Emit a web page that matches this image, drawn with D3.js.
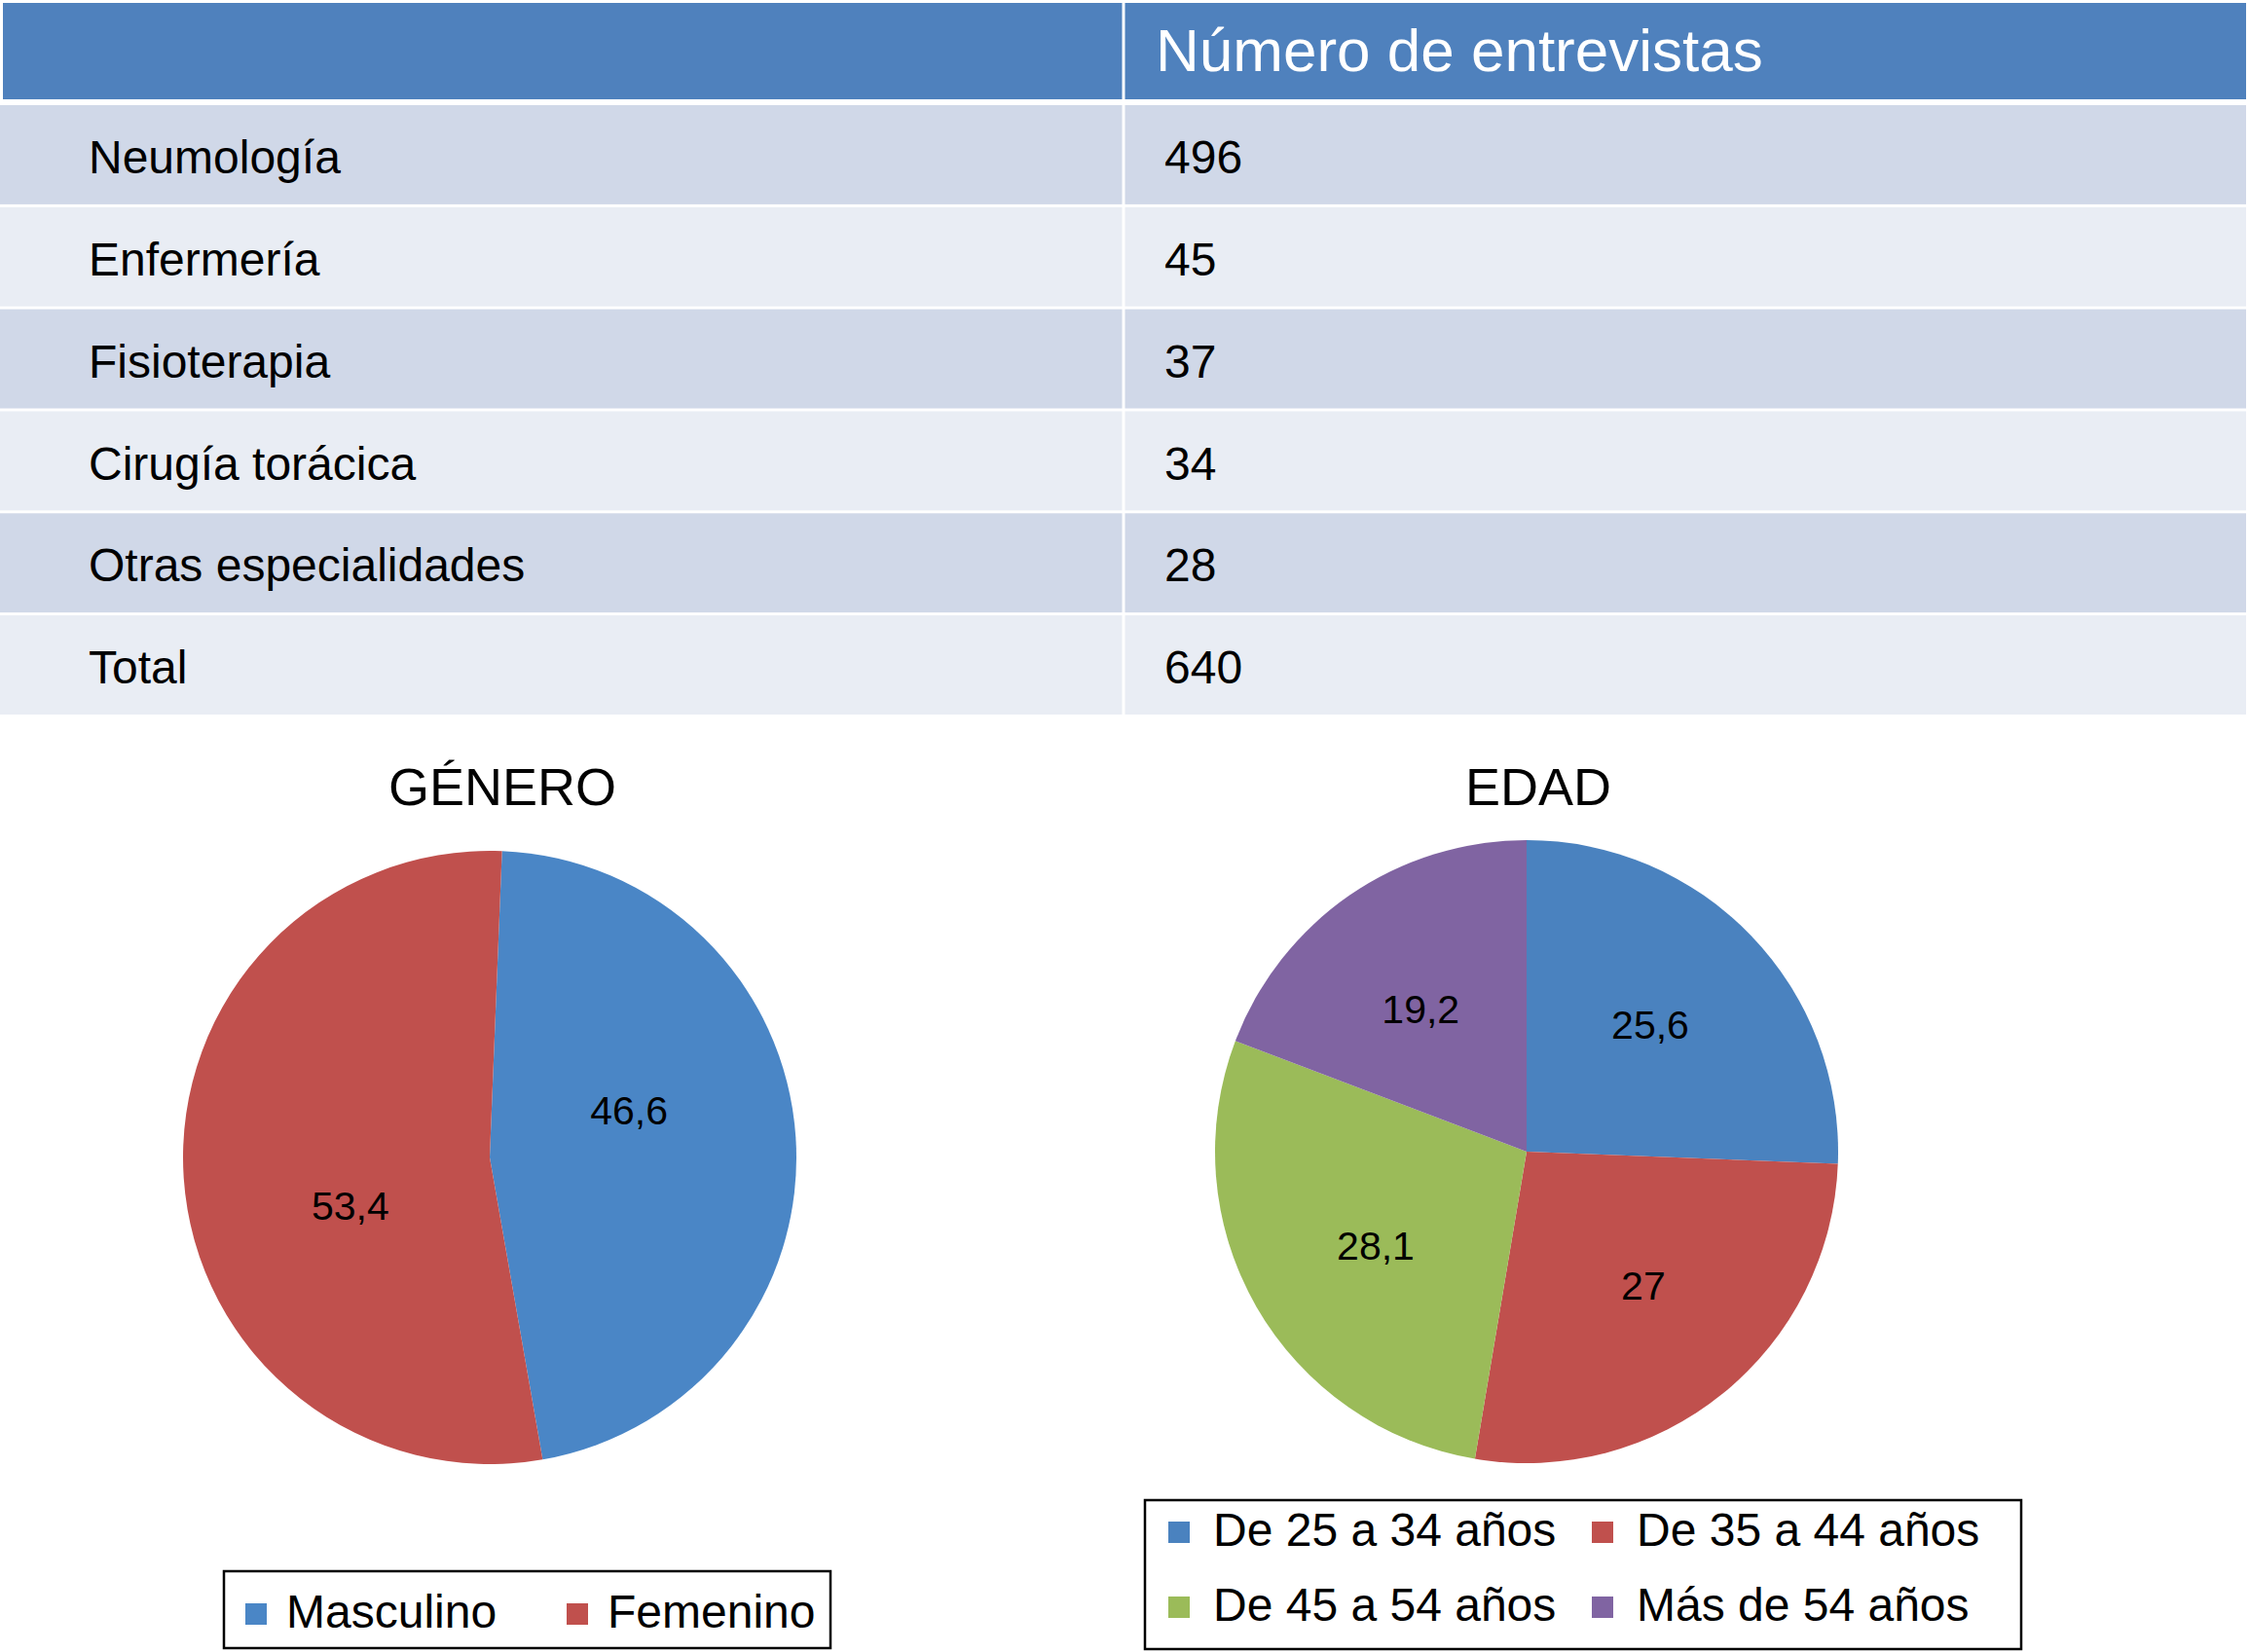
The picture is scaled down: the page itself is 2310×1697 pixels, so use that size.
<!DOCTYPE html>
<html>
<head>
<meta charset="utf-8">
<script src="https://cdn.jsdelivr.net/npm/d3@7"></script>
<style>
  body { margin: 0; background: #fff; }
  svg text { font-family: "Liberation Sans", Arial, Helvetica, sans-serif; }
</style>
</head>
<body>
<div class="app"></div>
<script>
// table data
var headerLabel = "Número de entrevistas";
var rowLabels = ["Neumología", "Enfermería", "Fisioterapia", "Cirugía torácica", "Otras especialidades", "Total"];
var rowValues = [496, 45, 37, 34, 28, 640];

// pie data
var generoTitle = "GÉNERO";
var generoLabels = ["Masculino", "Femenino"];
var generoValues = [46.6, 53.4];

var edadTitle = "EDAD";
var edadLabels = ["De 25 a 34 años", "De 35 a 44 años", "De 45 a 54 años", "Más de 54 años"];
var edadValues = [25.6, 27, 28.1, 19.2];

var width = 2310, height = 1697;
var fmt = function(v) { return String(v).replace(".", ","); };

var svg = d3.select(".app").append("svg")
    .attr("width", width)
    .attr("height", height);

// ---- table ----
var colSplit = 1154;
var tableRight = 2307;
var gap = 3;

svg.append("rect")
    .attr("x", 3).attr("y", 3)
    .attr("width", colSplit - gap / 2 - 3).attr("height", 99)
    .attr("fill", "#4F81BD");
svg.append("rect")
    .attr("x", colSplit + gap / 2).attr("y", 3)
    .attr("width", tableRight - colSplit - gap / 2).attr("height", 99)
    .attr("fill", "#4F81BD");
svg.append("text")
    .attr("x", 1187).attr("y", 51)
    .attr("dy", "0.36em")
    .attr("fill", "#fff")
    .attr("font-size", 62)
    .text(headerLabel);

var y = d3.scaleBand()
    .domain(rowLabels)
    .range([108, 734])
    .paddingInner(0.028);

var rows = svg.append("g").selectAll("g")
    .data(rowLabels)
    .join("g");

rows.append("rect")
    .attr("x", 0).attr("y", function(d) { return y(d); })
    .attr("width", colSplit - gap / 2).attr("height", y.bandwidth())
    .attr("fill", function(d, i) { return i % 2 ? "#E9EDF4" : "#D0D8E8"; });
rows.append("rect")
    .attr("x", colSplit + gap / 2).attr("y", function(d) { return y(d); })
    .attr("width", tableRight - colSplit - gap / 2).attr("height", y.bandwidth())
    .attr("fill", function(d, i) { return i % 2 ? "#E9EDF4" : "#D0D8E8"; });
rows.append("text")
    .attr("x", 91)
    .attr("y", function(d) { return y(d) + y.bandwidth() / 2; })
    .attr("dy", "0.4em")
    .attr("font-size", 48)
    .text(function(d) { return d; });
rows.append("text")
    .attr("x", 1196)
    .attr("y", function(d) { return y(d) + y.bandwidth() / 2; })
    .attr("dy", "0.4em")
    .attr("font-size", 48)
    .text(function(d, i) { return rowValues[i]; });

// ---- pies ----
function drawPie(opts) {
  var g = svg.append("g")
      .attr("transform", "translate(" + opts.cx + "," + opts.cy + ")");
  var start = opts.startDeg * Math.PI / 180;
  var pie = d3.pie().sort(null)
      .startAngle(start).endAngle(start + 2 * Math.PI);
  var arcs = pie(opts.values);
  var arc = d3.arc().innerRadius(0).outerRadius(opts.r);
  var labelArc = d3.arc()
      .innerRadius(opts.r * opts.labelR).outerRadius(opts.r * opts.labelR);
  var shift = opts.labelShift * Math.PI / 180;

  g.selectAll("path")
      .data(arcs)
      .join("path")
      .attr("d", arc)
      .attr("fill", function(d, i) { return opts.colors[i]; });

  g.selectAll("text.lbl")
      .data(arcs)
      .join("text")
      .attr("class", "lbl")
      .attr("transform", function(d) {
        var c = labelArc.centroid({startAngle: d.startAngle + shift, endAngle: d.endAngle + shift});
        return "translate(" + c + ")";
      })
      .attr("text-anchor", "middle")
      .attr("dy", "0.36em")
      .attr("font-size", 41)
      .text(function(d) { return fmt(d.data); });

  svg.append("text")
      .attr("x", opts.titleX).attr("y", 827)
      .attr("text-anchor", "middle")
      .attr("font-size", 54)
      .text(opts.title);

  // legend
  var lg = opts.legend;
  svg.append("rect")
      .attr("x", lg.x).attr("y", lg.y)
      .attr("width", lg.w).attr("height", lg.h)
      .attr("fill", "none")
      .attr("stroke", "#000")
      .attr("stroke-width", 2.5);
  var items = svg.append("g").selectAll("g")
      .data(opts.labels)
      .join("g")
      .attr("transform", function(d, i) {
        return "translate(" + (lg.x + lg.cols[i % lg.cols.length]) + "," +
          (lg.y + lg.rows[Math.floor(i / lg.cols.length)]) + ")";
      });
  items.append("rect")
      .attr("x", 0).attr("y", -25)
      .attr("width", 22).attr("height", 22)
      .attr("fill", function(d, i) { return opts.colors[i]; });
  items.append("text")
      .attr("x", lg.textGap).attr("y", 0)
      .attr("font-size", 48)
      .text(function(d) { return d; });
}

drawPie({
  title: generoTitle, titleX: 516,
  values: generoValues, labels: generoLabels,
  colors: ["#4A86C6", "#C0504D"],
  cx: 503, cy: 1189, r: 315, startDeg: 2.3,
  labelR: 0.48, labelShift: -15,
  legend: {x: 230, y: 1614, w: 623, h: 79, cols: [22, 352], rows: [58], textGap: 42}
});

drawPie({
  title: edadTitle, titleX: 1580,
  values: edadValues, labels: edadLabels,
  colors: ["#4A82BF", "#C0504D", "#9BBB59", "#8064A2"],
  cx: 1568, cy: 1183, r: 320, startDeg: 0,
  labelR: 0.57, labelShift: -2,
  legend: {x: 1176, y: 1541, w: 900, h: 153, cols: [24, 459], rows: [47, 124], textGap: 46}
});
</script>
</body>
</html>
